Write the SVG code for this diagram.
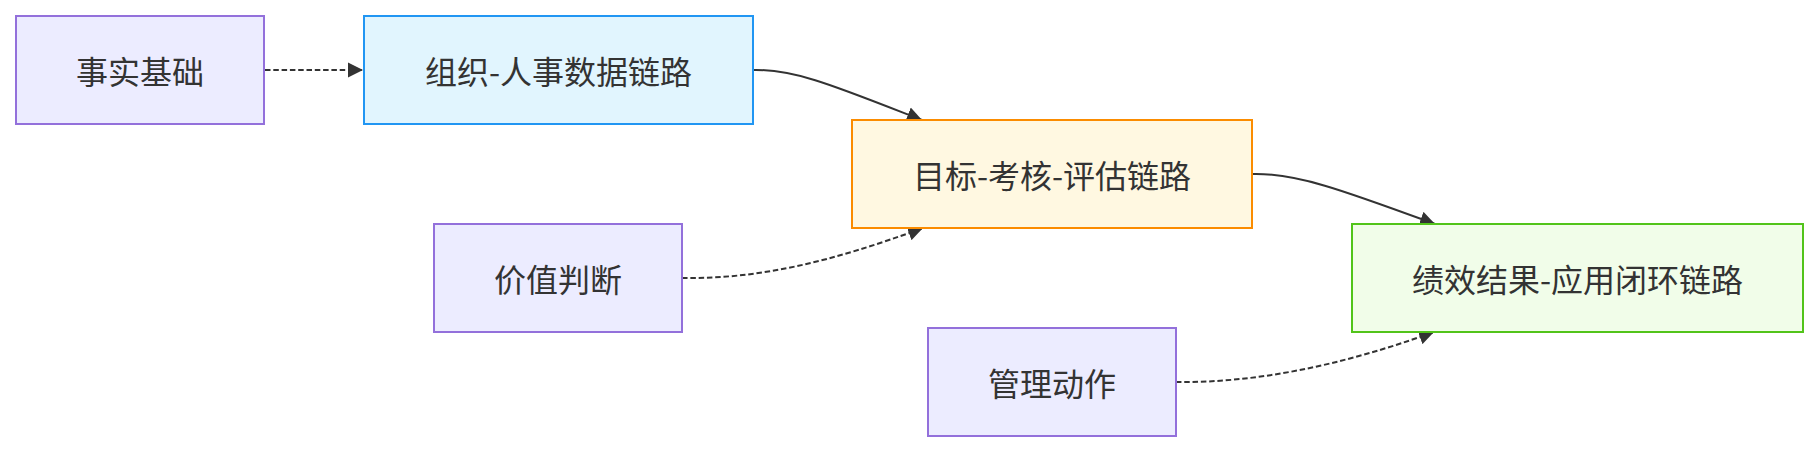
<svg xmlns="http://www.w3.org/2000/svg" width="1819" height="452" viewBox="0 0 1819 452">
<style>
.node rect{stroke-width:2}
.def rect{fill:#ECECFF;stroke:#9370DB}
.blue rect{fill:#E1F5FE;stroke:#2196F3}
.orange rect{fill:#FFF8E1;stroke:#FB8C00}
.green rect{fill:#F1FDE9;stroke:#52C41A}
.node text{font-family:"Noto Sans CJK SC","Noto Sans",sans-serif;font-size:32px;fill:#333;text-anchor:middle;dominant-baseline:central}
.edge{fill:none;stroke:#333;stroke-width:2}
.dotted{stroke-dasharray:5.5 2.8}
</style>
<defs>
<marker id="arrow" viewBox="0 0 10 10" refX="10" refY="5" markerUnits="userSpaceOnUse" markerWidth="15" markerHeight="16" orient="auto">
<path d="M0,0 L10,5 L0,10 z" fill="#333"/>
</marker>
</defs>
<g id="connectors">
<path class="edge dotted" d="M265,70 L363,70" marker-end="url(#arrow)"/>
<path class="edge" d="M753,70 C795,69 835,86 922,120" marker-end="url(#arrow)"/>
<path class="edge" d="M1253,174 C1297,173 1345,191 1435,224" marker-end="url(#arrow)"/>
<path class="edge dotted" d="M682,278 C760,279 830,262 923,228" marker-end="url(#arrow)"/>
<path class="edge dotted" d="M1176,382 C1255,383 1340,366 1434,332" marker-end="url(#arrow)"/>
</g>
<g id="n-fact" class="node def"><rect x="16" y="16" width="248" height="108"/><text x="140" y="70">事实基础</text></g>
<g id="n-org" class="node blue"><rect x="364" y="16" width="389" height="108"/><text x="558.5" y="70">组织-人事数据链路</text></g>
<g id="n-goal" class="node orange"><rect x="852" y="120" width="400" height="108"/><text x="1052" y="174">目标-考核-评估链路</text></g>
<g id="n-value" class="node def"><rect x="434" y="224" width="248" height="108"/><text x="558" y="278">价值判断</text></g>
<g id="n-result" class="node green"><rect x="1352" y="224" width="451" height="108"/><text x="1577.5" y="278">绩效结果-应用闭环链路</text></g>
<g id="n-action" class="node def"><rect x="928" y="328" width="248" height="108"/><text x="1052" y="382">管理动作</text></g>
</svg>
